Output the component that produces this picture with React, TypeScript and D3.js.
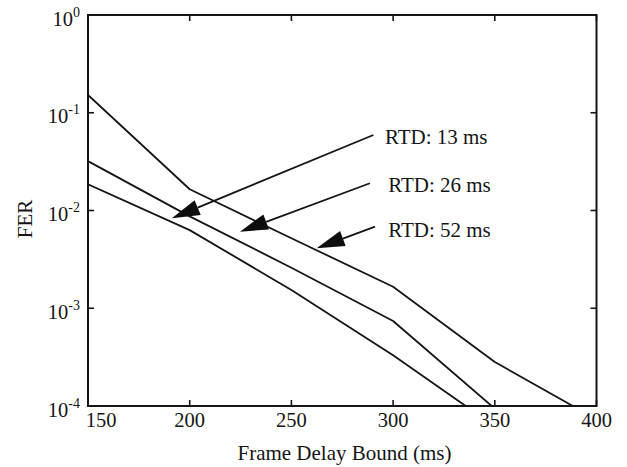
import React from "react";
import * as d3 from "d3";

const W = 627;
const H = 467;

const delays = [150, 200, 250, 300, 350, 400];
const fer13 = [0.0185, 0.0063, 0.00154, 0.00033, 0.000062];
const fer26 = [0.032, 0.0087, 0.0026, 0.00074, 0.000094];
const fer52 = [0.152, 0.0165, 0.0052, 0.00166, 0.000282, 0.000073];

const xTicks = [150, 200, 250, 300, 350, 400];
const yTickExps = [0, -1, -2, -3, -4];

const labels = ["RTD: 13 ms", "RTD: 26 ms", "RTD: 52 ms"];
// arrow tail/tip in data units [delay, FER]
const arrowTails = [[290.3, 0.0592], [288.6, 0.019], [291.1, 0.00683]];
const arrowTips = [[191.2, 0.00832], [224.7, 0.00607], [262.4, 0.0041]];
// label anchor in data units
const labelPos = [[296.0, 0.0483], [297.6, 0.0155], [297.6, 0.00535]];

const FONT = "'Liberation Serif', 'Times New Roman', serif";
const INK = "#151515";

export default function App() {
  const m = { left: 88, right: 596.5, top: 15, bottom: 406 };
  const x = d3.scaleLinear().domain([150, 400]).range([m.left, m.right]);
  const y = d3.scaleLog().domain([1e-4, 1]).range([m.bottom, m.top]);

  const line = (vals: number[]) =>
    d3
      .line<number>()
      .x((_, i) => x(delays[i]))
      .y((v) => y(v))(vals) as string;

  const series = [fer13, fer26, fer52];
  const tickLen = 6;

  const arrowHead = (tail: number[], tip: number[]) => {
    const tx = x(tip[0]);
    const ty = y(tip[1]);
    const sx = x(tail[0]);
    const sy = y(tail[1]);
    const dx = sx - tx;
    const dy = sy - ty;
    const L = Math.hypot(dx, dy);
    const ux = dx / L;
    const uy = dy / L;
    const len = 28;
    const hw = 8;
    const bx = tx + ux * len;
    const by = ty + uy * len;
    const p1 = [bx - uy * hw, by + ux * hw];
    const p2 = [bx + uy * hw, by - ux * hw];
    return {
      poly: `${tx},${ty} ${p1[0]},${p1[1]} ${p2[0]},${p2[1]}`,
      line: [sx, sy, bx, by],
    };
  };

  return (
    <svg
      width={W}
      height={H}
      style={{ position: "absolute", left: 0, top: 0, background: "#fff" }}
      fontFamily={FONT}
    >
      <defs>
        <clipPath id="plot">
          <rect x={m.left} y={m.top} width={m.right - m.left} height={m.bottom - m.top} />
        </clipPath>
      </defs>
      <rect x={0} y={0} width={W} height={H} fill="#fff" />

      {/* data lines */}
      <g clipPath="url(#plot)">
        {series.map((s, i) => (
          <path key={i} d={line(s)} fill="none" stroke={INK} strokeWidth={1.8} strokeLinejoin="round" />
        ))}
      </g>

      {/* ticks */}
      {xTicks.map((t) => (
        <g key={"xt" + t}>
          <line x1={x(t)} x2={x(t)} y1={m.bottom} y2={m.bottom - tickLen} stroke={INK} strokeWidth={1.6} />
          <line x1={x(t)} x2={x(t)} y1={m.top} y2={m.top + tickLen} stroke={INK} strokeWidth={1.6} />
          <text
            x={t === 150 ? x(t) + 13 : x(t)}
            y={m.bottom + 20.5}
            textAnchor="middle"
            fontSize={20.5}
            fill={INK}
          >
            {t}
          </text>
        </g>
      ))}
      {yTickExps.map((e) => (
        <g key={"yt" + e}>
          <line x1={m.left} x2={m.left + tickLen} y1={y(Math.pow(10, e))} y2={y(Math.pow(10, e))} stroke={INK} strokeWidth={1.6} />
          <line x1={m.right} x2={m.right - tickLen} y1={y(Math.pow(10, e))} y2={y(Math.pow(10, e))} stroke={INK} strokeWidth={1.6} />
          <text x={80} y={y(Math.pow(10, e)) + 10.5} textAnchor="end" fill={INK}>
            <tspan fontSize={20.5}>10</tspan>
            <tspan fontSize={14} dy={-9}>{String(e)}</tspan>
          </text>
        </g>
      ))}

      {/* axes frame */}
      <rect
        x={m.left}
        y={m.top}
        width={m.right - m.left}
        height={m.bottom - m.top}
        fill="none"
        stroke={INK}
        strokeWidth={2}
      />

      {/* annotations */}
      {labels.map((lab, i) => {
        const a = arrowHead(arrowTails[i], arrowTips[i]);
        return (
          <g key={lab}>
            <line x1={a.line[0]} y1={a.line[1]} x2={a.line[2]} y2={a.line[3]} stroke={INK} strokeWidth={1.8} />
            <polygon points={a.poly} fill="#0d0d0d" />
            <text x={x(labelPos[i][0])} y={y(labelPos[i][1])} fontSize={21} fill={INK}>
              {lab}
            </text>
          </g>
        );
      })}

      {/* axis labels */}
      <text x={344.5} y={460} textAnchor="middle" fontSize={21} fill={INK}>
        Frame Delay Bound (ms)
      </text>
      <text
        transform={`translate(31.5,219) rotate(-90)`}
        textAnchor="middle"
        fontSize={21}
        fill={INK}
      >
        FER
      </text>
    </svg>
  );
}
